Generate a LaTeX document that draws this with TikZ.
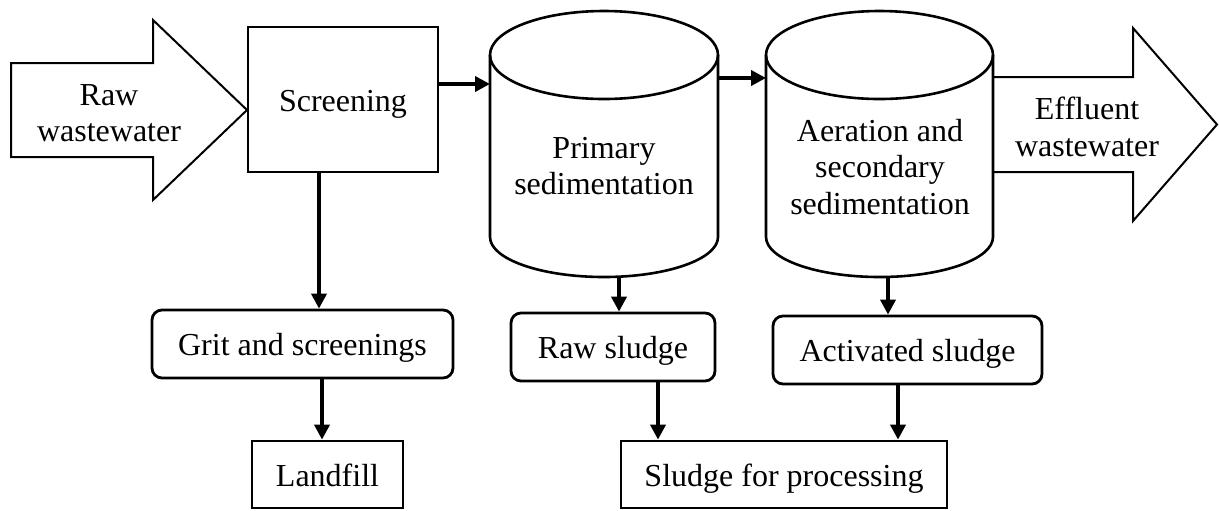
\documentclass[tikz,border=0pt]{standalone}
\usepackage{fontspec}
\setmainfont{Liberation Serif}
\usetikzlibrary{arrows.meta,calc}
\begin{document}
\begin{tikzpicture}[x=0.5pt,y=-0.5pt,
  txt/.style={font=\fontsize{16}{18.3}\selectfont, align=center, inner sep=0pt},
  sqbox/.style={txt, draw, line width=1.4pt, text height=12.5pt, text depth=0.7pt},
  rbox/.style={sqbox, rounded corners=5pt},
  bigarrow/.style={draw, line width=1pt, line join=miter},
  tank/.style={draw, line width=1.3pt},
  conn/.style={line width=2pt, -{Triangle[length=7.5pt,width=7.5pt]}}]
\useasboundingbox (0,0) rectangle (1219,510);

% raw wastewater arrow
\draw[bigarrow] (11,63) -- (153,63) -- (153,20) -- (247,110) -- (153,200) -- (153,157) -- (11,157) -- cycle;
\node[txt] (raw) at (109,113) {Raw\\wastewater};

% screening
\node[sqbox, minimum width=95pt, minimum height=72.5pt] (scr) at (343,99.5) {Screening};

% primary sedimentation tank
\draw[tank] (490,55) -- (490,237) arc[start angle=180, end angle=360, x radius=57pt, y radius=20pt] -- (718,55);
\draw[tank] (604,55) ellipse [x radius=57pt, y radius=22pt];
\coordinate (pin) at (490,84);
\coordinate (pbot) at (619,276);
\node[txt] (prim) at (604,166) {Primary\\sedimentation};

% aeration tank
\draw[tank] (766,55) -- (766,237) arc[start angle=180, end angle=360, x radius=56.75pt, y radius=20pt] -- (993,55);
\draw[tank] (879.5,55) ellipse [x radius=56.75pt, y radius=22pt];
\coordinate (pout) at (718,78);
\coordinate (ain) at (766,78);
\coordinate (abot) at (888,276);
\node[txt] (aer) at (880,167) {Aeration and\\secondary\\sedimentation};

% effluent arrow
\draw[bigarrow] (993,77) -- (1133,77) -- (1133,28) -- (1217,124.5) -- (1133,221) -- (1133,172) -- (993,172);
\node[txt] (eff) at (1087,127) {Effluent\\wastewater};

% lower boxes
\node[rbox, minimum width=150.5pt, minimum height=34pt] (grit) at (302.5,344) {Grit and screenings};
\node[sqbox, minimum width=75.5pt, minimum height=33.5pt] (land) at (327.5,474.5) {Landfill};
\node[rbox, minimum width=102pt, minimum height=34pt] (rsl) at (613,347) {Raw sludge};
\node[rbox, minimum width=134.5pt, minimum height=34pt] (asl) at (907.5,350) {Activated sludge};
\node[sqbox, minimum width=163pt, minimum height=33.5pt] (proc) at (784,474.5) {Sludge for processing};

% connectors
\draw[conn] (scr.east |- pin) -- (pin);
\draw[conn] (pout) -- (ain);
\draw[conn] ([xshift=-12pt]scr.south) -- ([xshift=-12pt]scr.south |- grit.north);
\draw[conn] ([xshift=-2.75pt]land.north |- grit.south) -- ([xshift=-2.75pt]land.north);
\draw[conn] (pbot) -- (pbot |- rsl.north);
\draw[conn] (abot) -- (abot |- asl.north);
\draw[conn] ([xshift=22.5pt]rsl.south) -- ([xshift=22.5pt]rsl.south |- proc.north);
\draw[conn] ([xshift=-4.75pt]asl.south) -- ([xshift=-4.75pt]asl.south |- proc.north);
\end{tikzpicture}
\end{document}
